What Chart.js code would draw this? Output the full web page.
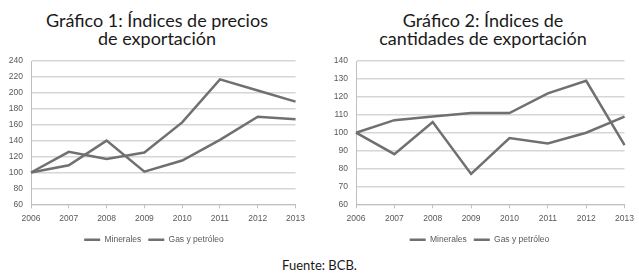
<!DOCTYPE html>
<html>
<head>
<meta charset="utf-8">
<script src="https://cdn.jsdelivr.net/npm/chart.js"></script>
<style>
    body { margin: 0; background: #fff; width: 639px; height: 278px; position: relative; overflow: hidden; }
    .title { position: absolute; font-family: Lato, sans-serif; font-size: 18px; line-height: 18px; color: #1a1a1a; text-align: center; }
    #t1 { left: 25px; top: 11px; width: 264px; }
    #t2 { left: 351px; top: 11px; width: 264px; }
    #src { position: absolute; left: 0; width: 639px; top: 257px; text-align: center; font-family: Lato, sans-serif; font-size: 13px; color: #1a1a1a; }
    canvas { position: absolute; }
    #c1 { left: 0; top: 48px; }
    #c2 { left: 322px; top: 48px; }
</style>
</head>
<body>
<div class="title" id="t1">Gráfico 1: Índices de precios<br>de exportación</div>
<div class="title" id="t2">Gráfico 2: Índices de<br>cantidades de exportación</div>
<canvas id="c1" width="310" height="206"></canvas>
<canvas id="c2" width="317" height="206"></canvas>
<div id="src">Fuente: BCB.</div>

<script>
// Data
const years = ['2006', '2007', '2008', '2009', '2010', '2011', '2012', '2013'];

// Gráfico 1: precios
const mineralesPrecios = [100, 126, 117, 125, 163, 217, 203, 189];
const gasPrecios = [100, 109, 140, 101, 115, 141, 170, 167];

// Gráfico 2: cantidades
const mineralesCantidades = [100, 107, 109, 111, 111, 122, 129, 93];
const gasCantidades = [100, 88, 106, 77, 97, 94, 100, 109];

const lineColor = '#707070';
const tickFont = { family: 'Liberation Sans', size: 8.5 };

function makeChart(id, minerales, gas, yMin, yMax, step, yWidth) {
    const ctx = document.getElementById(id).getContext('2d');
    return new Chart(ctx, {
        type: 'line',
        data: {
            labels: years,
            datasets: [{
                label: 'Minerales',
                data: minerales,
                borderColor: lineColor,
                backgroundColor: lineColor,
                borderWidth: 2.5,
                pointRadius: 0,
                pointStyle: 'line',
                tension: 0
            }, {
                label: 'Gas y petróleo',
                data: gas,
                borderColor: lineColor,
                backgroundColor: lineColor,
                borderWidth: 2.5,
                pointRadius: 0,
                pointStyle: 'line',
                tension: 0
            }]
        },
        options: {
            responsive: false,
            animation: false,
            layout: { padding: { top: 0, right: 2 } },
            plugins: {
                legend: {
                    position: 'bottom',
                    labels: {
                        usePointStyle: true,
                        pointStyleWidth: 16,
                        color: '#595959',
                        font: tickFont,
                        padding: 7
                    }
                },
                tooltip: { enabled: false }
            },
            scales: {
                x: {
                    offset: false,
                    grid: { drawOnChartArea: false, drawTicks: true, tickLength: 4, color: '#bfbfbf' },
                    border: { color: '#bfbfbf' },
                    ticks: { color: '#595959', font: tickFont, maxRotation: 0, autoSkip: false, padding: 5 }
                },
                y: {
                    min: yMin,
                    max: yMax,
                    grid: { color: '#d6d6d6', lineWidth: 1.5, drawTicks: false },
                    border: { color: '#bfbfbf' },
                    ticks: { stepSize: step, color: '#595959', font: tickFont, padding: 8 },
                    afterFit: function(scale) { scale.width = yWidth; }
                }
            }
        }
    });
}

makeChart('c1', mineralesPrecios, gasPrecios, 60, 240, 20, 31);
makeChart('c2', mineralesCantidades, gasCantidades, 60, 140, 10, 34);
</script>
</body>
</html>
